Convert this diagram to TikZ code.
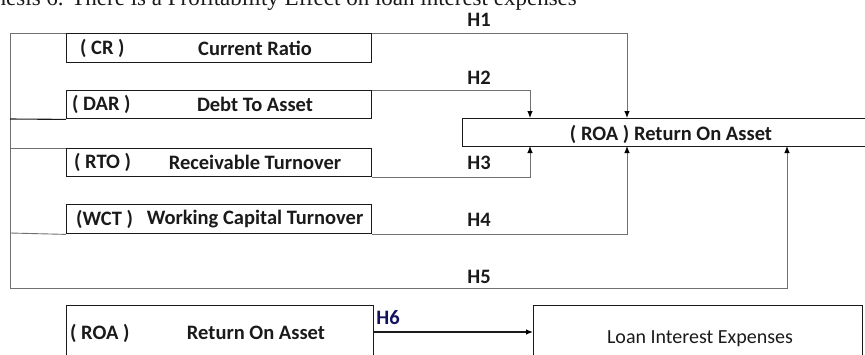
\documentclass[tikz,border=0pt]{standalone}
\usepackage{fontspec}
\setmainfont{Carlito}
\newfontfamily\serifhead{Liberation Serif}
\usetikzlibrary{arrows.meta}
\definecolor{ink}{HTML}{1A1A1A}
\definecolor{wire}{HTML}{707070}
\begin{document}
\begin{tikzpicture}[x=1pt,y=-1pt,
  varbox/.style={draw=ink,line width=1.4pt,inner sep=0pt,anchor=north west},
  lbl/.style={font=\fontsize{20.5}{22}\selectfont\bfseries,text=ink,inner sep=0pt},
  hlbl/.style={font=\fontsize{20.5}{22}\selectfont\bfseries,text=ink,inner sep=0pt},
  conn/.style={draw=wire,line width=0.9pt},
  thick conn/.style={draw=ink,line width=1.1pt},
  arr/.style={conn,-{Latex[length=7pt,width=5.5pt,black]}},
  thick arr/.style={draw=ink,line width=1.2pt,-{Latex[length=7pt,width=5.5pt,black]}}
]
\useasboundingbox (0,0) rectangle (865,354);
\begin{scope}
\clip (0,0) rectangle (865,354);
% clipped caption line
\node[anchor=base east,inner sep=0pt,font=\serifhead\fontsize{23}{25}\selectfont,text=ink] (cap) at (577,5) {Hypothesis 6. There is a Profitability Effect on loan interest expenses};
% boxes
\node[varbox,minimum width=305pt,minimum height=29pt] (cr) at (66,33) {};
\node[varbox,minimum width=305pt,minimum height=28pt] (dar) at (66,90) {};
\node[varbox,minimum width=305pt,minimum height=28pt] (rto) at (66,148) {};
\node[varbox,minimum width=305pt,minimum height=29pt] (wct) at (66,204) {};
\node[varbox,minimum width=420pt,minimum height=28pt] (roa) at (462,118) {};
\node[varbox,minimum width=307pt,minimum height=70pt] (roab) at (66,305) {};
\node[varbox,minimum width=329pt,minimum height=70pt] (loan) at (533,305) {};
% texts
\node[lbl,anchor=west] (crA) at (80,48) {( CR )};
\node[lbl] (crB) at (255,48) {Current Ratio};
\node[lbl,anchor=west] (darA) at (72,104) {( DAR )};
\node[lbl] (darB) at (255,104) {Debt To Asset};
\node[lbl,anchor=west] (rtoA) at (74,162) {( RTO )};
\node[lbl] (rtoB) at (255,162) {Receivable Turnover};
\node[lbl,anchor=west] (wctA) at (76,219) {(WCT )};
\node[lbl] (wctB) at (255,219) {Working Capital Turnover};
\node[lbl] (roaT) at (671,134) {( ROA ) Return On Asset};
\node[lbl,anchor=west] (roabA) at (70,333) {( ROA )};
\node[lbl] (roabB) at (256,333) {Return On Asset};
\node[font=\fontsize{20}{22}\selectfont,text=ink,inner sep=0pt] (loanT) at (700,339) {Loan Interest Expenses};
% H labels
\node[hlbl] (h1) at (479,20) {H1};
\node[hlbl] (h2) at (479,78) {H2};
\node[hlbl] (h3) at (479,163) {H3};
\node[hlbl] (h4) at (479,220) {H4};
\node[hlbl] (h5) at (479,277) {H5};
\node[hlbl,text=ink!70!blue] (h6) at (388,318) {H6};
% coordinates
\coordinate (tl) at (10,33);
\coordinate (bl) at (10,288);
\coordinate (l2) at (10,119);
\coordinate (l3) at (10,148);
\coordinate (l4) at (10,233);
\coordinate (a1) at (627,118);
\coordinate (a2) at (530,118);
\coordinate (a3) at (530,146);
\coordinate (a4) at (627,146);
\coordinate (a5) at (787,146);
% connectors
\draw[conn] (bl) -- (tl) -- (cr.north west);
\draw[arr] (cr.north east) -| (a1);
\draw[arr] (dar.north east) -| (a2);
\draw[thick conn] (l2) -- (dar.south west);
\draw[conn] (l3) -- (rto.north west);
\draw[arr] (rto.south east) -| (a3);
\draw[conn] (l4) -- (wct.south west);
\draw[arr] (wct.south east) -| (a4);
\draw[arr] (bl) -| (a5);
\draw[thick arr] (roab.east |- 0,332) -- (loan.west |- 0,332);
\end{scope}
\end{tikzpicture}
\end{document}
